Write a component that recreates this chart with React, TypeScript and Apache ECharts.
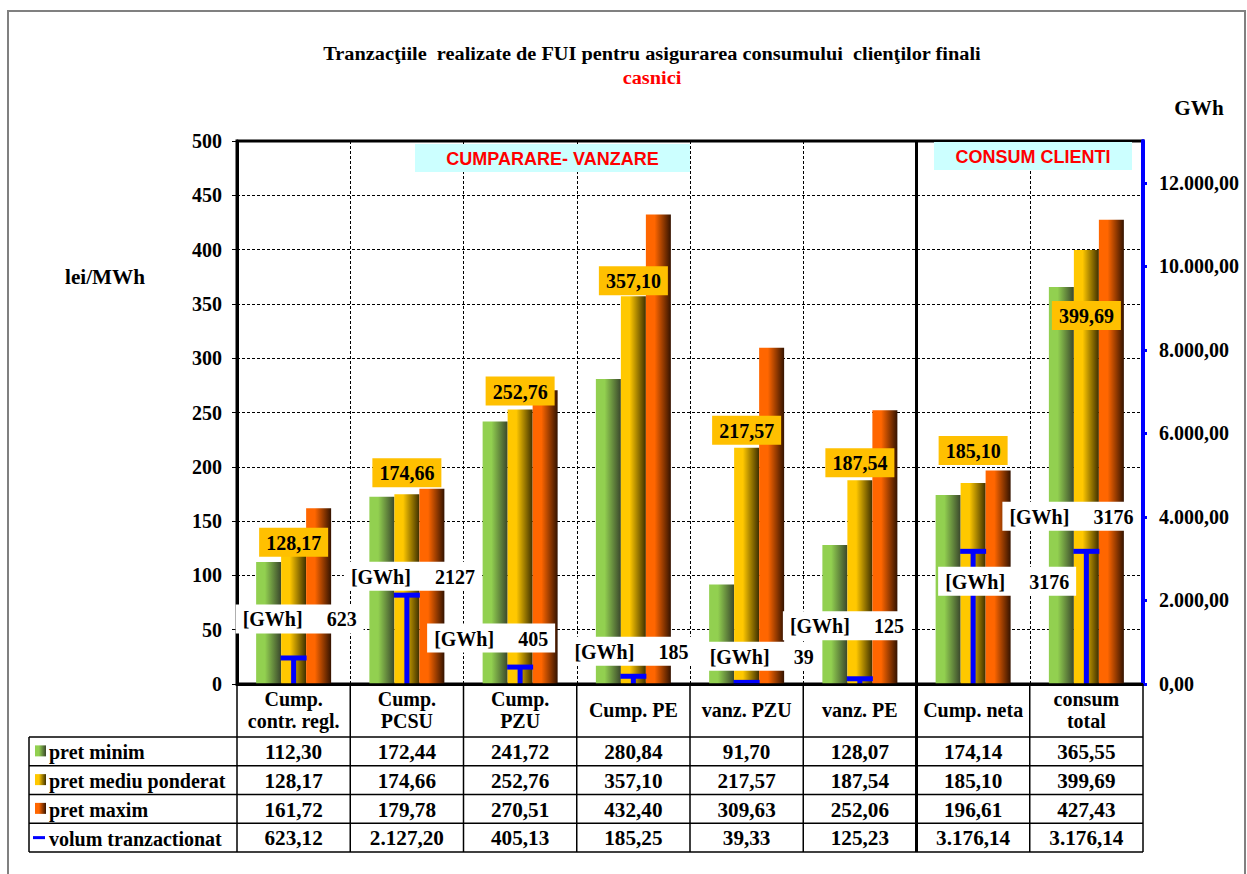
import React, { useEffect, useRef } from "react";
import * as echarts from "echarts";

const categories = ["Cump.\ncontr. regl.", "Cump.\nPCSU", "Cump.\nPZU", "Cump. PE", "vanz. PZU", "vanz. PE", "Cump. neta", "consum\ntotal"];
const pretMinim = [112.3, 172.44, 241.72, 280.84, 91.7, 128.07, 174.14, 365.55];
const pretMediu = [128.17, 174.66, 252.76, 357.1, 217.57, 187.54, 185.1, 399.69];
const pretMaxim = [161.72, 179.78, 270.51, 432.4, 309.63, 252.06, 196.61, 427.43];
const volum = [623.12, 2127.2, 405.13, 185.25, 39.33, 125.23, 3176.14, 3176.14];
const seriesNames = ["pret minim", "pret mediu ponderat", "pret maxim", "volum tranzactionat"];
const titleText = "Tranzacţiile  realizate de FUI pentru asigurarea consumului  clienţilor finali";
const subtitleText = "casnici";
const leftAxis = { min: 0, max: 500, interval: 50, name: "lei/MWh" };
const rightAxis = { min: 0, max: 13000, interval: 2000, name: "GWh" };
const sectionLabels = ["CUMPARARE- VANZARE", "CONSUM CLIENTI"];

// layout (label offsets, not data)
const mediuLabelDy = [17, -2, 1, 4, 2, 2, -13, 85];
const gwhOffsets = [[6, -39], [6, -19], [-29, -29], [-2, -25], [15, -26], [-13, -53], [34, 30], [-15, -35]];

const SERIF = '"Times New Roman", "Liberation Serif", serif';
const FS = 20;
const SX = 1.06;

function fmt(v: number): string {
  const [i, d] = v.toFixed(2).split(".");
  return i.replace(/\B(?=(\d{3})+(?!\d))/g, ".") + "," + d;
}

const grad = (c0: string, c1: string) =>
  new echarts.graphic.LinearGradient(0, 0, 1, 0, [
    { offset: 0, color: c0 },
    { offset: 0.35, color: c0 },
    { offset: 1, color: c1 },
  ]);
const colors = [
  ["#92D050", "#3A472C"],
  ["#FFC800", "#3E3000"],
  ["#FF6600", "#341300"],
];

export default function App() {
  const ref = useRef<HTMLDivElement>(null);
  useEffect(() => {
    document.body.style.margin = "0";
    const chart = echarts.init(ref.current!, null, { renderer: "svg" });
    const grid = { left: 237, right: 104, top: 141, bottom: 190 };
    const option: any = {
      animation: false,
      backgroundColor: "#fff",
      grid: { ...grid, show: true, borderColor: "#000", borderWidth: 3, backgroundColor: "#fff", z: 0 },
      xAxis: {
        type: "category",
        data: categories,
        axisLine: { lineStyle: { color: "#000", width: 3 } },
        axisTick: { show: false },
        axisLabel: {
          margin: 26,
          verticalAlign: "middle",
          interval: 0,
          color: "#000",
          fontWeight: "bold",
          fontSize: FS,
          lineHeight: 22,
          fontFamily: SERIF,
        },
        splitLine: { show: true, interval: 0, lineStyle: { color: "#000", type: [3, 2], width: 1 } },
      },
      yAxis: [
        {
          type: "value",
          min: leftAxis.min,
          max: leftAxis.max,
          interval: leftAxis.interval,
          axisLine: { show: true, lineStyle: { color: "#000", width: 3 } },
          axisTick: { show: true, length: 5, lineStyle: { color: "#000", width: 1 } },
          axisLabel: { margin: 15, color: "#000", fontWeight: "bold", fontSize: FS, fontFamily: SERIF },
          splitLine: { show: true, lineStyle: { color: "#000", type: [3, 2], width: 1 } },
        },
        {
          type: "value",
          position: "right",
          min: rightAxis.min,
          max: rightAxis.max,
          interval: rightAxis.interval,
          axisLine: { show: true, lineStyle: { color: "#0000FF", width: 4 } },
          axisTick: { show: true, length: 4, lineStyle: { color: "#0000FF", width: 3 } },
          axisLabel: {
            margin: 16,
            showMaxLabel: false,
            color: "#000",
            fontWeight: "bold",
            fontSize: FS,
            fontFamily: SERIF,
            formatter: (v: number) => fmt(v),
          },
          splitLine: { show: false },
        },
      ],
      series: [
        {
          name: seriesNames[0],
          type: "bar",
          data: pretMinim,
          barWidth: 25,
          barGap: "0%",
          itemStyle: { color: grad(colors[0][0], colors[0][1]) },
        },
        {
          name: seriesNames[1],
          type: "bar",
          data: pretMediu.map((v, i) => ({ value: v, label: { offset: [0, mediuLabelDy[i]] } })),
          barWidth: 25,
          barGap: "0%",
          itemStyle: { color: grad(colors[1][0], colors[1][1]) },
          label: {
            show: true,
            position: "top",
            distance: 5,
            formatter: (p: any) => fmt(p.value),
            backgroundColor: "#FFC000",
            padding: [5, 7, 4, 7],
            color: "#000",
            fontWeight: "bold",
            fontSize: FS,
            fontFamily: SERIF,
          },
        },
        {
          name: seriesNames[2],
          type: "bar",
          data: pretMaxim,
          barWidth: 25,
          barGap: "0%",
          itemStyle: { color: grad(colors[2][0], colors[2][1]) },
        },
        {
          name: seriesNames[3],
          type: "custom",
          yAxisIndex: 1,
          z: 5,
          data: volum.map((v, i) => [i, v]),
          renderItem: (params: any, api: any) => {
            const i = api.value(0);
            const v = api.value(1);
            const top = api.coord([i, v]);
            const base = api.coord([i, 0]);
            const capW = 26;
            const off = gwhOffsets[params.dataIndex];
            return {
              type: "group",
              children: [
                {
                  type: "rect",
                  shape: { x: top[0] - 2.5, y: top[1], width: 5, height: base[1] - top[1] },
                  style: { fill: "#0000FF" },
                },
                {
                  type: "rect",
                  shape: { x: top[0] - capW / 2, y: top[1] - 2.5, width: capW, height: 5 },
                  style: { fill: "#0000FF" },
                },
                {
                  type: "text",
                  x: top[0] + off[0],
                  y: top[1] + off[1],
                  z2: 10,
                  style: {
                    text: `{a|[GWh]}{b|${Math.round(v)}}`,
                    rich: {
                      a: { fontSize: FS, fontWeight: "bold", fontFamily: SERIF, fill: "#000" },
                      b: { fontSize: FS, fontWeight: "bold", fontFamily: SERIF, fill: "#000", padding: [0, 0, 0, 24] },
                    },
                    fontSize: FS,
                    fontWeight: "bold",
                    fontFamily: SERIF,
                    align: "center",
                    verticalAlign: "middle",
                    backgroundColor: "#fff",
                    padding: [5, 7, 4, 7],
                  },
                },
              ],
            };
          },
        },
      ],
    };
    chart.setOption(option);

    // table & annotations positioned from the chart's own scales
    const centers = categories.map((_, i) => chart.convertToPixel({ xAxisIndex: 0 }, i) as number);
    const cw = centers.length > 1 ? centers[1] - centers[0] : 100;
    const bounds = centers.map((c) => c - cw / 2).concat([centers[centers.length - 1] + cw / 2]);
    const yTop = chart.convertToPixel({ yAxisIndex: 0 }, leftAxis.max) as number;
    const y0 = chart.convertToPixel({ yAxisIndex: 0 }, 0) as number;
    const headerBottom = y0 + 53;
    const rowH = 28.75;
    const tableLeft = 29;
    const rows = [pretMinim, pretMediu, pretMaxim, volum];
    const rowLines = [0, 1, 2, 3, 4].map((k) => headerBottom + k * rowH);
    const tableBottom = rowLines[4];
    const lineStyle = { stroke: "#000", lineWidth: 1.5 };
    const g: any[] = [];
    const txt = (text: string, x: number, y: number, extra: any = {}, sx: number = SX) => ({
      type: "text",
      x,
      y,
      scaleX: sx,
      z: 20,
      style: {
        text,
        fill: "#000",
        fontSize: FS,
        fontWeight: "bold",
        fontFamily: SERIF,
        align: "center",
        verticalAlign: "middle",
        textAlign: "center",
        textVerticalAlign: "middle",
        ...extra,
      },
    });
    // outer frame
    g.push({ type: "rect", z: 0, shape: { x: 8, y: 11, width: 1237, height: 900 }, style: { fill: "none", stroke: "#808080", lineWidth: 2 } });
    // titles
    g.push(txt(titleText, 652, 53, { fontSize: 19 }, 1.07));
    g.push(txt(subtitleText, 652, 77, { fontSize: 19, fill: "#FF0000" }, 1.07));
    g.push(txt(leftAxis.name, 105, 277));
    g.push(txt(rightAxis.name, 1199, 108));
    // section boxes
    const secBoxes = [
      { x: 415, y: 144, w: 275, h: 28 },
      { x: 934, y: 142, w: 198, h: 28 },
    ];
    secBoxes.forEach((b, k) => {
      g.push({ type: "rect", z: 15, shape: { x: b.x, y: b.y, width: b.w, height: b.h }, style: { fill: "#CCFFFF" } });
      g.push(txt(sectionLabels[k], b.x + b.w / 2, b.y + b.h / 2 + 1, { fontFamily: "Arial, 'Liberation Sans', sans-serif", fontSize: 18, fill: "#FF0000" }, 1));
    });
    // thick separator between sections
    g.push({ type: "line", z: 18, shape: { x1: bounds[6], y1: yTop, x2: bounds[6], y2: tableBottom }, style: { stroke: "#000", lineWidth: 3 } });
    // table horizontal lines
    g.push({ type: "line", z: 18, shape: { x1: bounds[0], y1: y0, x2: bounds[8], y2: y0 }, style: lineStyle });
    rowLines.forEach((y) => {
      g.push({ type: "line", z: 18, shape: { x1: tableLeft, y1: y, x2: bounds[8], y2: y }, style: lineStyle });
    });
    // table vertical lines
    bounds.forEach((x, k) => {
      if (k === 6) return;
      g.push({ type: "line", z: 18, shape: { x1: x, y1: y0, x2: x, y2: tableBottom }, style: lineStyle });
    });
    g.push({ type: "line", z: 18, shape: { x1: tableLeft, y1: headerBottom, x2: tableLeft, y2: tableBottom }, style: lineStyle });
    // rows
    rows.forEach((vals, r) => {
      const cy = headerBottom + r * rowH + rowH / 2;
      if (r < 3) {
        g.push({
          type: "rect",
          z: 20,
          shape: { x: 35, y: cy - 6, width: 11, height: 11 },
          style: { fill: grad(colors[r][0], colors[r][1]) },
        });
      } else {
        g.push({ type: "rect", z: 20, shape: { x: 33, y: cy - 1.5, width: 12, height: 3 }, style: { fill: "#0000FF" } });
      }
      g.push(txt(seriesNames[r], 49, cy + 1, { align: "left", textAlign: "left" }, 1.0));
      vals.forEach((v, i) => {
        g.push(txt(fmt(v), centers[i], cy + 1));
      });
    });
    chart.setOption({ graphic: g });
    return () => chart.dispose();
  }, []);
  return <div ref={ref} style={{ width: 1247, height: 874 }} />;
}
